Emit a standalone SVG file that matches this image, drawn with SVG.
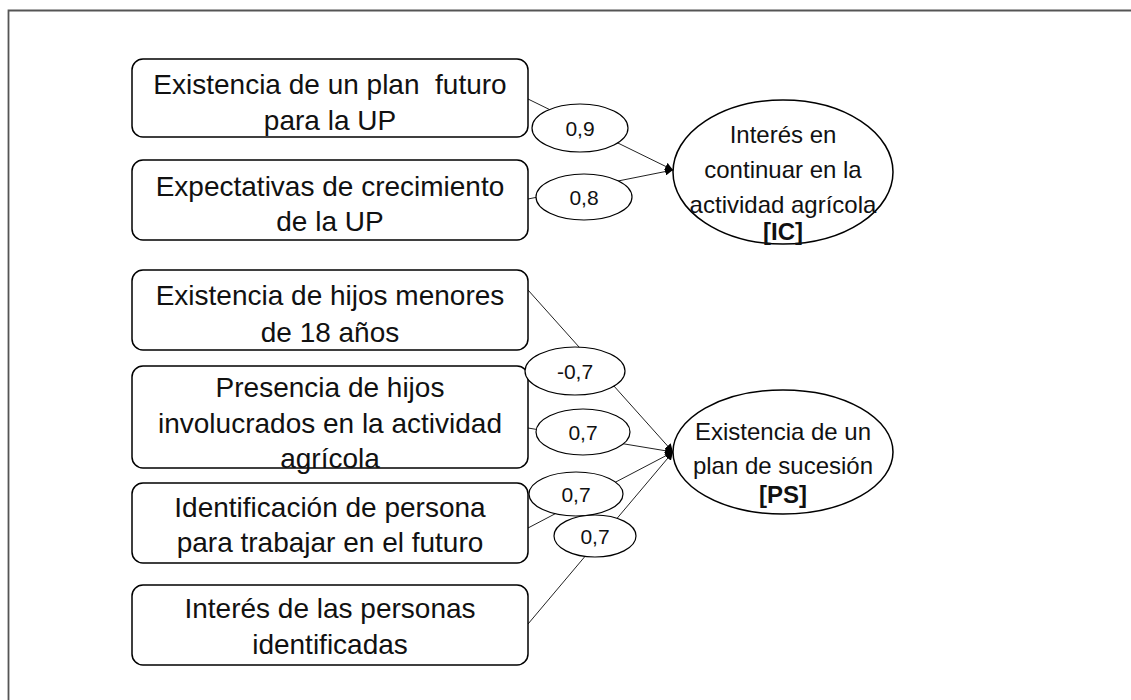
<svg xmlns="http://www.w3.org/2000/svg" width="1131" height="700" viewBox="0 0 1131 700">
<defs>
<marker id="ah" viewBox="0 0 10 10" refX="10" refY="5" markerWidth="8" markerHeight="8" orient="auto" markerUnits="userSpaceOnUse">
<path d="M0,0 L10,5 L0,10 z" fill="#000"/>
</marker>
<style>
.box{fill:#fff;stroke:#000;stroke-width:1.5}
.lbl{fill:#fff;stroke:#000;stroke-width:1.2}
.big{fill:#fff;stroke:#000;stroke-width:1.5}
.t{font-family:"Liberation Sans",Arial,sans-serif;font-size:28px;fill:#111;text-anchor:middle}
.e{font-family:"Liberation Sans",Arial,sans-serif;font-size:24px;fill:#111;text-anchor:middle}
.b{font-weight:bold}
.s{font-family:"Liberation Sans",Arial,sans-serif;font-size:21px;fill:#111;text-anchor:middle}
.c{stroke:#222;stroke-width:1;fill:none;marker-end:url(#ah)}
</style>
</defs>
<rect width="1131" height="700" fill="#fff"/>
<path d="M8.5,700 L8.5,10.5 L1131,10.5" fill="none" stroke="#555" stroke-width="1.8"/>
<g id="connectors">
<line class="c" x1="528" y1="99" x2="673" y2="170"/>
<line class="c" x1="528" y1="199" x2="673" y2="170"/>
<line class="c" x1="528" y1="290" x2="673" y2="452"/>
<line class="c" x1="528" y1="428" x2="673" y2="452"/>
<line class="c" x1="528" y1="528" x2="673" y2="452"/>
<line class="c" x1="528" y1="624" x2="673" y2="452"/>
</g>
<g id="n1"><rect class="box" x="132" y="59" width="396" height="78" rx="11"/>
<text class="t" x="330" y="94" xml:space="preserve">Existencia de un plan  futuro</text><text class="t" x="330" y="130">para la UP</text></g>
<g id="n2"><rect class="box" x="132" y="160" width="396" height="80" rx="11"/>
<text class="t" x="330" y="196">Expectativas de crecimiento</text><text class="t" x="330" y="231">de la UP</text></g>
<g id="n3"><rect class="box" x="132" y="270" width="396" height="80" rx="11"/>
<text class="t" x="330" y="305">Existencia de hijos menores</text><text class="t" x="330" y="342">de 18 años</text></g>
<g id="n4"><rect class="box" x="132" y="366" width="396" height="102" rx="11"/>
<text class="t" x="330" y="397">Presencia de hijos</text><text class="t" x="330" y="433">involucrados en la actividad</text><text class="t" x="330" y="468">agrícola</text></g>
<g id="n5"><rect class="box" x="132" y="483" width="396" height="80" rx="11"/>
<text class="t" x="330" y="517">Identificación de persona</text><text class="t" x="330" y="552">para trabajar en el futuro</text></g>
<g id="n6"><rect class="box" x="132" y="585" width="396" height="80" rx="11"/>
<text class="t" x="330" y="618">Interés de las personas</text><text class="t" x="330" y="654">identificadas</text></g>
<g id="w1"><ellipse class="lbl" cx="580" cy="128" rx="48" ry="24"/><text class="s" x="580" y="136">0,9</text></g>
<g id="w2"><ellipse class="lbl" cx="584" cy="197" rx="48" ry="23"/><text class="s" x="584" y="205">0,8</text></g>
<g id="w3"><ellipse class="lbl" cx="575" cy="371" rx="50" ry="24"/><text class="s" x="575" y="379">-0,7</text></g>
<g id="w4"><ellipse class="lbl" cx="583" cy="432" rx="47" ry="23"/><text class="s" x="583" y="440">0,7</text></g>
<g id="w5"><ellipse class="lbl" cx="576" cy="494" rx="47" ry="22"/><text class="s" x="576" y="502">0,7</text></g>
<g id="w6"><ellipse class="lbl" cx="595" cy="536" rx="41" ry="21"/><text class="s" x="595" y="544">0,7</text></g>
<g id="IC"><ellipse class="big" cx="783" cy="172" rx="110" ry="72"/>
<text class="e" x="783" y="143">Interés en</text><text class="e" x="783" y="178">continuar en la</text><text class="e" x="783" y="213">actividad agrícola</text><text class="e b" x="783" y="240">[IC]</text></g>
<g id="PS"><ellipse class="big" cx="783" cy="452" rx="110" ry="62"/>
<text class="e" x="783" y="440">Existencia de un</text><text class="e" x="783" y="474">plan de sucesión</text><text class="e b" x="783" y="503">[PS]</text></g>
</svg>
